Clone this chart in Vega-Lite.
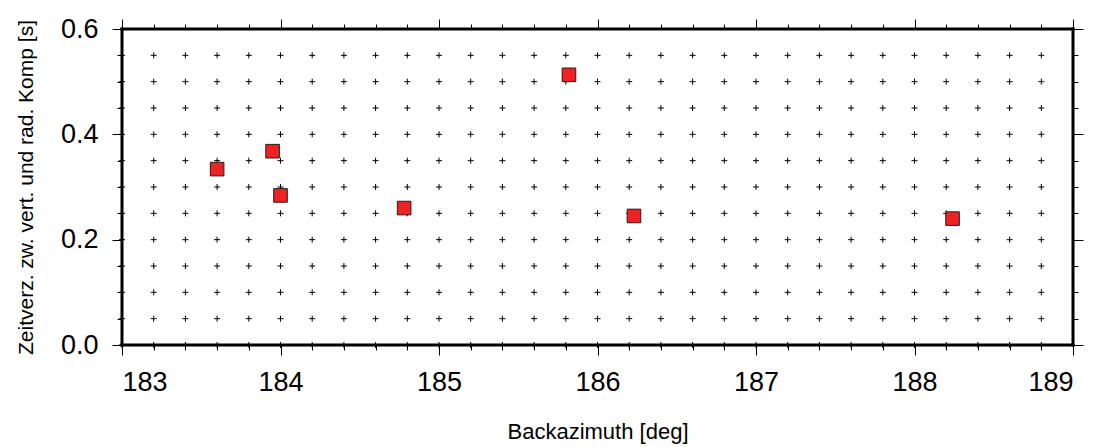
{
  "$schema": "https://vega.github.io/schema/vega-lite/v6.json",
  "width": 951,
  "height": 316,
  "autosize": "none",
  "padding": {"left": 122, "top": 29, "right": 26, "bottom": 102},
  "background": "white",
  "view": {"stroke": null},
  "config": {
    "font": "Liberation Sans",
    "axis": {
      "domain": false,
      "grid": false,
      "tickColor": "black",
      "tickWidth": 1,
      "labelColor": "black",
      "titleColor": "black",
      "labelFont": "Liberation Sans",
      "titleFont": "Liberation Sans",
      "titleFontWeight": "normal"
    }
  },
  "datasets": {
    "gridCrosses": [
      {"x": 183.0, "ys": [0, 0.05, 0.1, 0.15, 0.2, 0.25, 0.3, 0.35, 0.4, 0.45, 0.5, 0.55]},
      {"x": 183.2, "ys": [0, 0.05, 0.1, 0.15, 0.2, 0.25, 0.3, 0.35, 0.4, 0.45, 0.5, 0.55]},
      {"x": 183.4, "ys": [0, 0.05, 0.1, 0.15, 0.2, 0.25, 0.3, 0.35, 0.4, 0.45, 0.5, 0.55]},
      {"x": 183.6, "ys": [0, 0.05, 0.1, 0.15, 0.2, 0.25, 0.3, 0.35, 0.4, 0.45, 0.5, 0.55]},
      {"x": 183.8, "ys": [0, 0.05, 0.1, 0.15, 0.2, 0.25, 0.3, 0.35, 0.4, 0.45, 0.5, 0.55]},
      {"x": 184.0, "ys": [0, 0.05, 0.1, 0.15, 0.2, 0.25, 0.3, 0.35, 0.4, 0.45, 0.5, 0.55]},
      {"x": 184.2, "ys": [0, 0.05, 0.1, 0.15, 0.2, 0.25, 0.3, 0.35, 0.4, 0.45, 0.5, 0.55]},
      {"x": 184.4, "ys": [0, 0.05, 0.1, 0.15, 0.2, 0.25, 0.3, 0.35, 0.4, 0.45, 0.5, 0.55]},
      {"x": 184.6, "ys": [0, 0.05, 0.1, 0.15, 0.2, 0.25, 0.3, 0.35, 0.4, 0.45, 0.5, 0.55]},
      {"x": 184.8, "ys": [0, 0.05, 0.1, 0.15, 0.2, 0.25, 0.3, 0.35, 0.4, 0.45, 0.5, 0.55]},
      {"x": 185.0, "ys": [0, 0.05, 0.1, 0.15, 0.2, 0.25, 0.3, 0.35, 0.4, 0.45, 0.5, 0.55]},
      {"x": 185.2, "ys": [0, 0.05, 0.1, 0.15, 0.2, 0.25, 0.3, 0.35, 0.4, 0.45, 0.5, 0.55]},
      {"x": 185.4, "ys": [0, 0.05, 0.1, 0.15, 0.2, 0.25, 0.3, 0.35, 0.4, 0.45, 0.5, 0.55]},
      {"x": 185.6, "ys": [0, 0.05, 0.1, 0.15, 0.2, 0.25, 0.3, 0.35, 0.4, 0.45, 0.5, 0.55]},
      {"x": 185.8, "ys": [0, 0.05, 0.1, 0.15, 0.2, 0.25, 0.3, 0.35, 0.4, 0.45, 0.5, 0.55]},
      {"x": 186.0, "ys": [0, 0.05, 0.1, 0.15, 0.2, 0.25, 0.3, 0.35, 0.4, 0.45, 0.5, 0.55]},
      {"x": 186.2, "ys": [0, 0.05, 0.1, 0.15, 0.2, 0.25, 0.3, 0.35, 0.4, 0.45, 0.5, 0.55]},
      {"x": 186.4, "ys": [0, 0.05, 0.1, 0.15, 0.2, 0.25, 0.3, 0.35, 0.4, 0.45, 0.5, 0.55]},
      {"x": 186.6, "ys": [0, 0.05, 0.1, 0.15, 0.2, 0.25, 0.3, 0.35, 0.4, 0.45, 0.5, 0.55]},
      {"x": 186.8, "ys": [0, 0.05, 0.1, 0.15, 0.2, 0.25, 0.3, 0.35, 0.4, 0.45, 0.5, 0.55]},
      {"x": 187.0, "ys": [0, 0.05, 0.1, 0.15, 0.2, 0.25, 0.3, 0.35, 0.4, 0.45, 0.5, 0.55]},
      {"x": 187.2, "ys": [0, 0.05, 0.1, 0.15, 0.2, 0.25, 0.3, 0.35, 0.4, 0.45, 0.5, 0.55]},
      {"x": 187.4, "ys": [0, 0.05, 0.1, 0.15, 0.2, 0.25, 0.3, 0.35, 0.4, 0.45, 0.5, 0.55]},
      {"x": 187.6, "ys": [0, 0.05, 0.1, 0.15, 0.2, 0.25, 0.3, 0.35, 0.4, 0.45, 0.5, 0.55]},
      {"x": 187.8, "ys": [0, 0.05, 0.1, 0.15, 0.2, 0.25, 0.3, 0.35, 0.4, 0.45, 0.5, 0.55]},
      {"x": 188.0, "ys": [0, 0.05, 0.1, 0.15, 0.2, 0.25, 0.3, 0.35, 0.4, 0.45, 0.5, 0.55]},
      {"x": 188.2, "ys": [0, 0.05, 0.1, 0.15, 0.2, 0.25, 0.3, 0.35, 0.4, 0.45, 0.5, 0.55]},
      {"x": 188.4, "ys": [0, 0.05, 0.1, 0.15, 0.2, 0.25, 0.3, 0.35, 0.4, 0.45, 0.5, 0.55]},
      {"x": 188.6, "ys": [0, 0.05, 0.1, 0.15, 0.2, 0.25, 0.3, 0.35, 0.4, 0.45, 0.5, 0.55]},
      {"x": 188.8, "ys": [0, 0.05, 0.1, 0.15, 0.2, 0.25, 0.3, 0.35, 0.4, 0.45, 0.5, 0.55]}
    ],
    "delays": [
      {"backazimuth": 183.60, "delay": 0.334},
      {"backazimuth": 183.95, "delay": 0.368},
      {"backazimuth": 184.00, "delay": 0.284},
      {"backazimuth": 184.78, "delay": 0.260},
      {"backazimuth": 185.82, "delay": 0.513},
      {"backazimuth": 186.23, "delay": 0.245},
      {"backazimuth": 188.24, "delay": 0.240}
    ],
    "frameH": [{"yb": 0}, {"yb": 0.6}],
    "frameV": [{"xb": 183}, {"xb": 189}]
  },
  "resolve": {"axis": {"x": "independent", "y": "independent"}},
  "layer": [
    {
      "data": {"name": "gridCrosses"},
      "transform": [{"flatten": ["ys"], "as": ["y"]}],
      "mark": {
        "type": "point",
        "shape": "M-1,0H1M0,-1V1",
        "size": 36,
        "filled": false,
        "stroke": "black",
        "strokeWidth": 1,
        "opacity": 1,
        "clip": false
      },
      "encoding": {
        "x": {
          "field": "x", "type": "quantitative",
          "scale": {"domain": [183, 189], "nice": false, "zero": false},
          "axis": {
            "orient": "bottom",
            "values": [183, 184, 185, 186, 187, 188, 189],
            "format": "d",
            "tickSize": 10,
            "labelFontSize": 27,
            "labelPadding": 14,
            "title": "Backazimuth [deg]",
            "titleFontSize": 22,
            "titlePadding": 26
          }
        },
        "y": {
          "field": "y", "type": "quantitative",
          "scale": {"domain": [0, 0.6], "nice": false, "zero": false},
          "axis": {
            "orient": "left",
            "values": [0, 0.2, 0.4, 0.6],
            "format": ".1f",
            "tickSize": 10,
            "labelFontSize": 27,
            "labelPadding": 14,
            "title": "Zeitverz. zw. vert. und rad. Komp [s]",
            "titleFontSize": 21,
            "titlePadding": 24
          }
        }
      }
    },
    {
      "data": {"name": "delays"},
      "mark": {
        "type": "point",
        "shape": "square",
        "size": 185,
        "filled": true,
        "fill": "#ee2222",
        "stroke": "#2a1a1a",
        "strokeWidth": 1,
        "opacity": 1
      },
      "encoding": {
        "x": {
          "field": "backazimuth", "type": "quantitative",
          "axis": {
            "orient": "bottom",
            "values": [183.2, 183.4, 183.6, 183.8, 184.2, 184.4, 184.6, 184.8, 185.2, 185.4, 185.6, 185.8, 186.2, 186.4, 186.6, 186.8, 187.2, 187.4, 187.6, 187.8, 188.2, 188.4, 188.6, 188.8],
            "tickSize": 5,
            "labels": false,
            "title": null
          }
        },
        "y": {
          "field": "delay", "type": "quantitative",
          "axis": {
            "orient": "left",
            "values": [0.05, 0.1, 0.15, 0.25, 0.3, 0.35, 0.45, 0.5, 0.55],
            "tickSize": 5,
            "labels": false,
            "title": null
          }
        }
      }
    },
    {
      "data": {"name": "frameH"},
      "mark": {"type": "rule", "stroke": "black", "strokeWidth": 3, "strokeCap": "square", "clip": false},
      "encoding": {
        "y": {
          "field": "yb", "type": "quantitative",
          "axis": {
            "orient": "right",
            "values": [0, 0.2, 0.4, 0.6],
            "tickSize": 10,
            "labels": false,
            "title": null
          }
        },
        "x": {
          "datum": 183, "type": "quantitative",
          "axis": {
            "orient": "top",
            "values": [183, 184, 185, 186, 187, 188, 189],
            "tickSize": 10,
            "labels": false,
            "title": null
          }
        },
        "x2": {"datum": 189}
      }
    },
    {
      "data": {"name": "frameV"},
      "mark": {"type": "rule", "stroke": "black", "strokeWidth": 3, "strokeCap": "square", "clip": false},
      "encoding": {
        "x": {
          "field": "xb", "type": "quantitative",
          "axis": {
            "orient": "top",
            "values": [183.2, 183.4, 183.6, 183.8, 184.2, 184.4, 184.6, 184.8, 185.2, 185.4, 185.6, 185.8, 186.2, 186.4, 186.6, 186.8, 187.2, 187.4, 187.6, 187.8, 188.2, 188.4, 188.6, 188.8],
            "tickSize": 5,
            "labels": false,
            "title": null
          }
        },
        "y": {
          "datum": 0, "type": "quantitative",
          "axis": {
            "orient": "right",
            "values": [0.05, 0.1, 0.15, 0.25, 0.3, 0.35, 0.45, 0.5, 0.55],
            "tickSize": 5,
            "labels": false,
            "title": null
          }
        },
        "y2": {"datum": 0.6}
      }
    }
  ]
}
